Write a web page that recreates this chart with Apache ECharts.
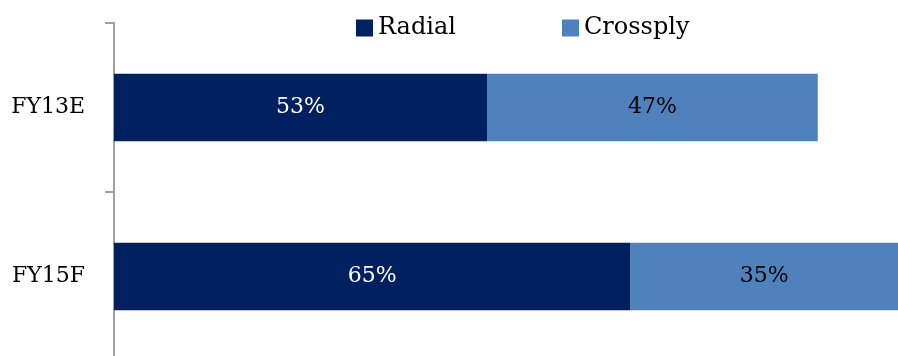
<!DOCTYPE html>
<html>
<head>
<meta charset="utf-8">
<script src="https://cdn.jsdelivr.net/npm/echarts@6/dist/echarts.min.js"></script>
<style>
  html, body { margin: 0; padding: 0; background: #fff; }
  #chart { width: 898px; height: 356px; }
</style>
</head>
<body>
<div id="chart"></div>
<script>
// 数据
var categories = ['FY13E', 'FY15F'];
var radial = [53, 73.4];
var crossply = [47, 39.5];
var radialPct = ['53%', '65%'];
var crossplyPct = ['47%', '35%'];

var serif = '"DejaVu Serif", "Liberation Serif", serif';

var myChart = echarts.init(document.getElementById('chart'));
myChart.setOption({
  animation: false,
  textStyle: { fontFamily: serif },
  legend: [
    {
      data: ['Radial'],
      left: 351, top: 11,
      itemWidth: 17, itemHeight: 17, itemGap: 6,
      icon: 'rect',
      textStyle: { fontFamily: serif, fontSize: 24, color: '#000' }
    },
    {
      data: ['Crossply'],
      left: 557, top: 11,
      itemWidth: 17, itemHeight: 17, itemGap: 6,
      icon: 'rect',
      textStyle: { fontFamily: serif, fontSize: 24, color: '#000' }
    }
  ],
  grid: { left: 114, right: 0, top: 23, height: 338, outerBoundsMode: 'none', containLabel: false },
  xAxis: {
    type: 'value',
    min: 0,
    max: 111.4,
    show: false
  },
  yAxis: {
    type: 'category',
    inverse: true,
    data: categories,
    axisLine: { show: true, lineStyle: { color: '#A0A0A0', width: 2 } },
    axisTick: { show: true, length: 9, lineStyle: { color: '#A0A0A0', width: 2 } },
    axisLabel: { margin: 29, fontSize: 22, color: '#000', fontFamily: serif }
  },
  series: [
    {
      name: 'Radial',
      type: 'bar',
      stack: 'total',
      barWidth: '40%',
      itemStyle: { color: '#002060' },
      data: radial,
      label: {
        show: true,
        position: 'inside',
        color: '#fff',
        fontSize: 22,
        fontFamily: serif,
        formatter: function (p) { return radialPct[p.dataIndex]; }
      }
    },
    {
      name: 'Crossply',
      type: 'bar',
      stack: 'total',
      barWidth: '40%',
      itemStyle: { color: '#4F81BD' },
      data: crossply,
      label: {
        show: true,
        position: 'inside',
        color: '#000',
        fontSize: 22,
        fontFamily: serif,
        formatter: function (p) { return crossplyPct[p.dataIndex]; }
      }
    }
  ]
});
</script>
</body>
</html>
